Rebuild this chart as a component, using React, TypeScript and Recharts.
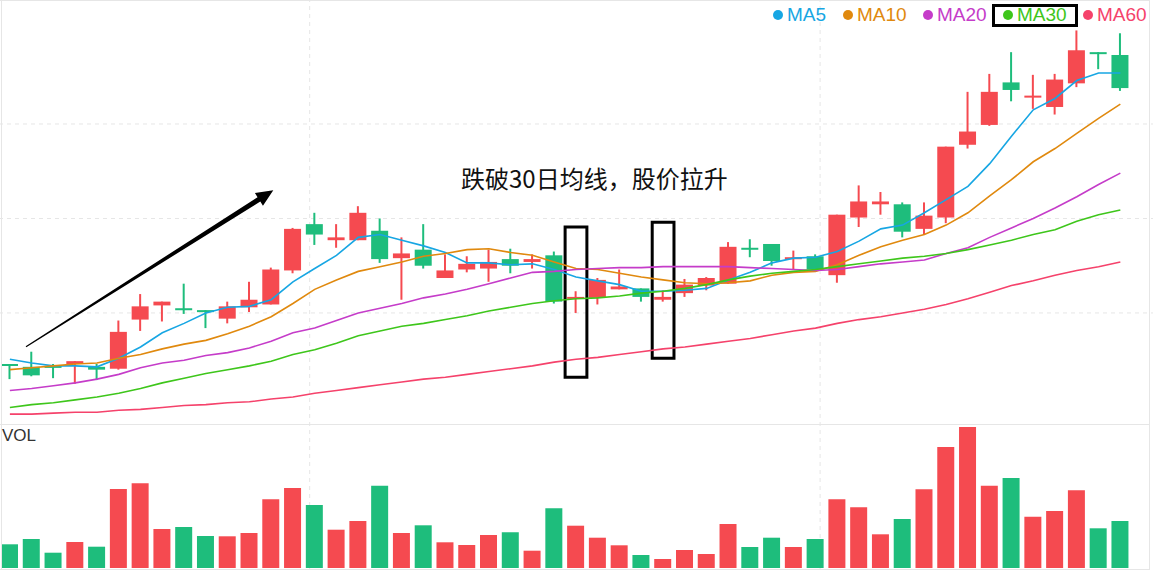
import React from "react";
import {
  ComposedChart,
  Bar,
  Line,
  XAxis,
  YAxis,
  CartesianGrid,
  ReferenceLine,
  ReferenceArea,
  Cell,
} from "recharts";

// 52 trading days plus one empty slot on the right edge
const days = Array.from({ length: 53 }, (_, i) => `D${i + 1}`);

const opens = [9.46, 9.43, 9.44, 9.46, 9.43, 9.41, 9.93, 10.08, 10.05, 10.03, 9.94, 10.06, 10.09, 10.45, 10.94, 10.77, 10.77, 10.87, 10.58, 10.67, 10.37, 10.46, 10.47, 10.57, 10.54, 10.61, 10.15, 10.16, 10.25, 10.26, 10.14, 10.21, 10.29, 10.31, 10.69, 10.73, 10.57, 10.6, 10.4, 11.01, 11.15, 11.15, 10.89, 11.01, 11.78, 11.99, 12.44, 12.28, 12.18, 12.43, 12.76, 12.73];
const closes = [9.45, 9.34, 9.43, 9.49, 9.4, 9.8, 10.07, 10.12, 10.03, 10.01, 10.07, 10.14, 10.46, 10.89, 10.83, 10.8, 11.06, 10.57, 10.63, 10.5, 10.45, 10.52, 10.54, 10.5, 10.57, 10.12, 10.17, 10.35, 10.28, 10.17, 10.17, 10.3, 10.37, 10.7, 10.67, 10.55, 10.59, 10.46, 11.04, 11.18, 11.18, 10.86, 11.03, 11.76, 11.92, 12.34, 12.36, 12.3, 12.47, 12.78, 12.75, 12.38];
const highs = [9.46, 9.59, 9.46, 9.49, 9.46, 9.92, 10.2, 10.12, 10.31, 10.03, 10.12, 10.33, 10.48, 10.9, 11.06, 10.94, 11.13, 11.0, 10.8, 10.94, 10.62, 10.6, 10.67, 10.68, 10.62, 10.65, 10.23, 10.37, 10.46, 10.26, 10.24, 10.36, 10.38, 10.75, 10.78, 10.73, 10.66, 10.62, 11.04, 11.35, 11.28, 11.17, 11.17, 11.76, 12.34, 12.53, 12.76, 12.52, 12.53, 12.99, 12.76, 12.96];
const lows = [9.3, 9.33, 9.31, 9.25, 9.29, 9.4, 9.81, 9.91, 9.99, 9.84, 9.89, 10.01, 10.09, 10.42, 10.72, 10.69, 10.77, 10.53, 10.14, 10.47, 10.37, 10.43, 10.33, 10.42, 10.47, 10.1, 10.0, 10.09, 10.25, 10.12, 10.12, 10.17, 10.24, 10.31, 10.59, 10.5, 10.46, 10.46, 10.32, 10.91, 11.04, 10.8, 10.83, 10.95, 11.74, 11.98, 12.24, 12.16, 12.1, 12.39, 12.58, 12.35];

const ma5 = [9.51, 9.47, 9.44, 9.44, 9.43, 9.52, 9.64, 9.79, 9.89, 10.0, 10.06, 10.07, 10.14, 10.33, 10.47, 10.61, 10.8, 10.83, 10.77, 10.71, 10.64, 10.53, 10.53, 10.51, 10.52, 10.46, 10.38, 10.34, 10.3, 10.23, 10.23, 10.24, 10.26, 10.35, 10.43, 10.53, 10.58, 10.59, 10.65, 10.76, 10.89, 10.93, 11.06, 11.2, 11.34, 11.58, 11.87, 12.15, 12.27, 12.46, 12.54, 12.54];
const ma10 = [9.4, 9.42, 9.44, 9.46, 9.47, 9.52, 9.56, 9.62, 9.67, 9.71, 9.78, 9.86, 9.96, 10.1, 10.25, 10.35, 10.44, 10.49, 10.54, 10.6, 10.63, 10.67, 10.68, 10.64, 10.61, 10.54, 10.47, 10.46, 10.42, 10.38, 10.35, 10.32, 10.31, 10.32, 10.34, 10.4, 10.43, 10.44, 10.51, 10.61, 10.7, 10.77, 10.83, 10.93, 11.06, 11.24, 11.41, 11.6, 11.74, 11.9, 12.06, 12.21];
const ma20 = [9.18, 9.2, 9.23, 9.26, 9.3, 9.35, 9.42, 9.47, 9.5, 9.55, 9.58, 9.63, 9.7, 9.79, 9.84, 9.92, 10.0, 10.05, 10.1, 10.16, 10.2, 10.25, 10.31, 10.37, 10.43, 10.44, 10.46, 10.47, 10.48, 10.48, 10.49, 10.49, 10.49, 10.49, 10.48, 10.47, 10.46, 10.45, 10.46, 10.49, 10.52, 10.54, 10.56, 10.63, 10.69, 10.8, 10.9, 11.0, 11.11, 11.23, 11.36, 11.48];
const ma30 = [9.0, 9.03, 9.05, 9.08, 9.11, 9.15, 9.2, 9.26, 9.31, 9.36, 9.4, 9.44, 9.49, 9.56, 9.61, 9.68, 9.76, 9.81, 9.86, 9.89, 9.93, 9.97, 10.02, 10.06, 10.1, 10.13, 10.15, 10.16, 10.18, 10.21, 10.23, 10.26, 10.3, 10.35, 10.39, 10.42, 10.44, 10.46, 10.49, 10.52, 10.55, 10.58, 10.6, 10.63, 10.67, 10.72, 10.77, 10.83, 10.88, 10.97, 11.04, 11.09];
const ma60 = [8.93, 8.93, 8.94, 8.95, 8.95, 8.97, 8.98, 9.0, 9.02, 9.03, 9.05, 9.06, 9.09, 9.11, 9.15, 9.18, 9.21, 9.24, 9.27, 9.3, 9.32, 9.35, 9.38, 9.41, 9.44, 9.48, 9.51, 9.53, 9.56, 9.59, 9.62, 9.64, 9.67, 9.7, 9.73, 9.77, 9.81, 9.84, 9.89, 9.93, 9.96, 10.0, 10.04, 10.09, 10.15, 10.22, 10.29, 10.34, 10.4, 10.45, 10.49, 10.54];

const volumes = [2370, 2900, 1530, 2600, 2130, 7900, 8470, 3900, 4100, 3200, 3170, 3500, 6870, 8000, 6300, 3830, 4700, 8230, 3500, 4270, 2570, 2300, 3300, 3570, 1730, 5970, 4230, 3030, 2270, 1300, 900, 1800, 1400, 4400, 2100, 3030, 2100, 2900, 6870, 6070, 3370, 4900, 7870, 12100, 14100, 8230, 9000, 5130, 5700, 7770, 3970, 4700];

const UP = "#f54a50";
const DOWN = "#1ebd7c";
const GRID = "#e6e6e6";

const MA_SERIES = [
  { key: "ma5", label: "MA5", color: "#17a6e3", left: 773 },
  { key: "ma10", label: "MA10", color: "#e0890e", left: 843 },
  { key: "ma20", label: "MA20", color: "#c53cc9", left: 923 },
  { key: "ma30", label: "MA30", color: "#3ec61b", left: 1003 },
  { key: "ma60", label: "MA60", color: "#f5426b", left: 1083 },
];

const rows = days.map((day, i) => ({
  day,
  open: opens[i],
  close: closes[i],
  high: highs[i],
  low: lows[i],
  range: i < opens.length ? [lows[i], highs[i]] : null,
  ma5: ma5[i],
  ma10: ma10[i],
  ma20: ma20[i],
  ma30: ma30[i],
  ma60: ma60[i],
  vol: volumes[i],
}));

const CHART_W = 1154;
const CHART_LEFT = -1.4;
const NO_MARGIN = { top: 0, right: 0, bottom: 0, left: 0 };

// draws wick + body inside the high-low range bar
function Candle(props: any) {
  const { x, y, width, height, payload } = props;
  if (!payload || payload.open == null) return null;
  const { open, close, high, low } = payload;
  const top = Math.min(y, y + height);
  const h = Math.abs(height);
  const k = h / (high - low || 1);
  const py = (v: number) => top + (high - v) * k;
  const color = close >= open ? UP : DOWN;
  const bTop = py(Math.max(open, close));
  const bBot = py(Math.min(open, close));
  const cx = x + width / 2;
  return (
    <g>
      <line x1={cx} x2={cx} y1={top} y2={top + h} stroke={color} strokeWidth={2} />
      <rect x={x} y={bTop} width={width} height={Math.max(bBot - bTop, 2)} fill={color} />
    </g>
  );
}

function Arrow() {
  const [x0, y0, x1, y1] = [26, 346.7, 273.3, 190.3];
  const len = Math.hypot(x1 - x0, y1 - y0);
  const ux = (x1 - x0) / len, uy = (y1 - y0) / len;
  const px = -uy, py = ux;
  const bx = x1 - 17 * ux, by = y1 - 17 * uy;
  const pts = [
    [x0 + 0.6 * px, y0 + 0.6 * py],
    [bx + 2.6 * px, by + 2.6 * py],
    [bx + 7.5 * px, by + 7.5 * py],
    [x1, y1],
    [bx - 7.5 * px, by - 7.5 * py],
    [bx - 2.6 * px, by - 2.6 * py],
    [x0 - 0.6 * px, y0 - 0.6 * py],
  ];
  return <polygon points={pts.map((p) => p.join(",")).join(" ")} fill="#000" />;
}

export default function App() {
  return (
    <div
      style={{
        position: "absolute",
        left: 0,
        top: 0,
        width: 1154,
        height: 570,
        overflow: "hidden",
        background: "#fff",
      }}
    >
      {/* vertical dashed grid behind both panels */}
      <div style={{ position: "absolute", left: CHART_LEFT, top: 0 }}>
        <ComposedChart width={CHART_W} height={570} data={rows} margin={NO_MARGIN}>
          <XAxis dataKey="day" hide />
          <YAxis hide />
          <Line dataKey="close" stroke="none" dot={false} activeDot={false} isAnimationActive={false} />
          <ReferenceLine x="D15" stroke={GRID} strokeDasharray="4 4" />
          <ReferenceLine x="D38" stroke={GRID} strokeDasharray="4 4" />
        </ComposedChart>
      </div>

      <div style={{ position: "absolute", left: CHART_LEFT, top: 0 }}>
        <ComposedChart width={CHART_W} height={424} data={rows} margin={NO_MARGIN}>
          <CartesianGrid vertical={false} stroke={GRID} strokeDasharray="4 4" horizontalValues={[10, 11, 12]} />
          <XAxis dataKey="day" hide />
          <YAxis hide domain={[8.825, 13.312]} ticks={[10, 11, 12]} allowDataOverflow />
          <Bar dataKey="range" barSize={17} shape={Candle} isAnimationActive={false} />
          {MA_SERIES.map((s) => (
            <Line
              key={s.key}
              type="linear"
              dataKey={s.key}
              stroke={s.color}
              strokeWidth={1.6}
              dot={false}
              activeDot={false}
              isAnimationActive={false}
            />
          ))}
          <ReferenceArea x1="D27" x2="D27" y1={9.32} y2={10.91} fill="none" stroke="#000" strokeWidth={3} ifOverflow="visible" />
          <ReferenceArea x1="D31" x2="D31" y1={9.52} y2={10.96} fill="none" stroke="#000" strokeWidth={3} ifOverflow="visible" />
        </ComposedChart>
      </div>

      <div style={{ position: "absolute", left: CHART_LEFT, top: 424 }}>
        <ComposedChart width={CHART_W} height={144} data={rows} margin={NO_MARGIN}>
          <XAxis dataKey="day" hide />
          <YAxis hide domain={[0, 14400]} allowDataOverflow />
          <Bar dataKey="vol" barSize={17} isAnimationActive={false}>
            {rows.map((r) => (
              <Cell key={r.day} fill={r.close >= r.open ? UP : DOWN} />
            ))}
          </Bar>
        </ComposedChart>
      </div>

      {/* panel frame */}
      <div style={{ position: "absolute", left: 0, top: 0, width: 1150, height: 1, background: GRID }} />
      <div style={{ position: "absolute", left: 1, top: 0, width: 1, height: 570, background: GRID }} />
      <div style={{ position: "absolute", left: 1149, top: 0, width: 1, height: 570, background: GRID }} />
      <div style={{ position: "absolute", left: 0, top: 424, width: 1150, height: 1, background: GRID }} />
      <div style={{ position: "absolute", left: 0, top: 569, width: 1150, height: 1, background: GRID }} />

      <svg width={1154} height={570} style={{ position: "absolute", left: 0, top: 0, pointerEvents: "none" }}>
        <Arrow />
        <text x={461} y={188} fontSize={24} fontFamily="'Noto Sans CJK SC', sans-serif" fill="#111">
          跌破30日均线，股价拉升
        </text>
        <text x={2} y={441} fontSize={17} fontFamily="'Liberation Sans', Arial, sans-serif" fill="#333">
          VOL
        </text>
      </svg>

      {/* legend */}
      {MA_SERIES.map((s) => (
        <div
          key={s.key}
          style={{
            position: "absolute",
            left: s.left,
            top: 4,
            height: 22,
            display: "flex",
            alignItems: "center",
            fontFamily: "'Liberation Sans', Arial, sans-serif",
            fontSize: 19,
            lineHeight: "22px",
            color: s.color,
            whiteSpace: "nowrap",
          }}
        >
          <span style={{ width: 10, height: 10, borderRadius: 5, background: s.color, marginRight: 4 }} />
          {s.label}
        </div>
      ))}
      <div
        style={{
          position: "absolute",
          left: 992,
          top: 4,
          width: 86,
          height: 23,
          border: "3px solid #000",
          boxSizing: "border-box",
        }}
      />
    </div>
  );
}
